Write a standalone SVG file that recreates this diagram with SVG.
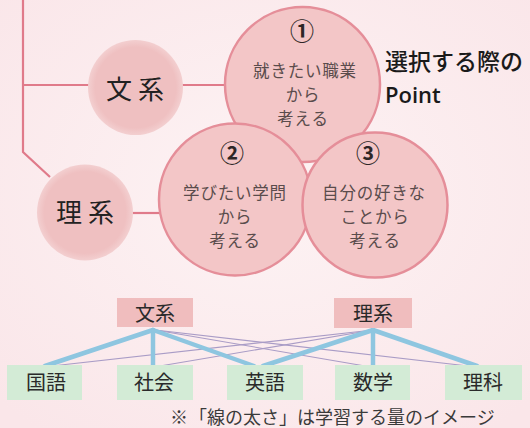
<svg xmlns="http://www.w3.org/2000/svg" width="530" height="428" viewBox="0 0 530 428">
  <defs>
    <radialGradient id="bg" cx="0.5" cy="0.45" r="0.7">
      <stop offset="0" stop-color="#fdf3f4"/>
      <stop offset="1" stop-color="#fae6e9"/>
    </radialGradient>
    <radialGradient id="soft" cx="0.5" cy="0.5" r="0.5">
      <stop offset="0.85" stop-color="#efc0c1"/>
      <stop offset="1" stop-color="#f3cfd0"/>
    </radialGradient>
    <style>
      .jp { font-family: "Noto Sans CJK JP", "Noto Sans", sans-serif; }
      .link { fill: none; stroke: #e07a8a; stroke-width: 2.2; }
      .big { fill: #f3c6c7; stroke: #e58e99; stroke-width: 2.5; }
      .small { fill: url(#soft); }
      .ctext { font-size: 16.5px; fill: #5a4c4c; text-anchor: middle; letter-spacing: 0.8px; }
      .num { font-size: 24px; font-weight: 700; fill: #2e2626; text-anchor: middle; }
      .label { font-size: 26px; fill: #222; text-anchor: middle; letter-spacing: 6px; }
      .pbox { fill: #f0bdbe; }
      .gbox { fill: #d3ebd6; }
      .btext { font-size: 20px; fill: #2a2a2a; text-anchor: middle; }
      .thick { stroke: #8ec6e0; stroke-width: 4.5; stroke-linecap: round; fill: none; }
      .thin { stroke: #a99cc6; stroke-width: 1.1; fill: none; }
    </style>
  </defs>
  <rect x="0" y="0" width="530" height="428" fill="url(#bg)"/>

  <g id="connectors">
    <polyline class="link" points="23,0 23,152 50,177"/>
    <line class="link" x1="23" y1="85" x2="90" y2="85"/>
    <line class="link" x1="182" y1="85" x2="226" y2="85"/>
    <line class="link" x1="132" y1="213" x2="161" y2="213"/>
    <g id="subject-links">
      <line class="thin" x1="155" y1="330" x2="365" y2="366"/>
      <line class="thin" x1="155" y1="330" x2="468" y2="366"/>
      <line class="thin" x1="373" y1="330" x2="52" y2="366"/>
      <line class="thin" x1="373" y1="330" x2="160" y2="366"/>
      <line class="thick" x1="153" y1="330" x2="45" y2="366"/>
      <line class="thick" x1="153" y1="330" x2="153" y2="366"/>
      <line class="thick" x1="153" y1="330" x2="254" y2="366"/>
      <line class="thick" x1="373" y1="330" x2="263" y2="366"/>
      <line class="thick" x1="373" y1="330" x2="373" y2="366"/>
      <line class="thick" x1="373" y1="330" x2="477" y2="366"/>
    </g>
  </g>

  <g id="bunkei-circle">
    <circle class="small" cx="135.5" cy="87.5" r="47.5"/>
    <text class="jp label" x="138" y="99">文系</text>
  </g>
  <g id="rikei-circle">
    <circle class="small" cx="85" cy="212.5" r="48"/>
    <text class="jp label" x="88" y="222">理系</text>
  </g>

  <g id="point1">
    <circle class="big" cx="302.5" cy="84.5" r="77.5"/>
    <text class="jp num" x="302" y="40">①</text>
    <text class="jp ctext" x="305" y="77">就きたい職業</text>
    <text class="jp ctext" x="303" y="101">から</text>
    <text class="jp ctext" x="303" y="125">考える</text>
  </g>
  <g id="point2">
    <circle class="big" cx="235" cy="199.5" r="76"/>
    <text class="jp num" x="232" y="162">②</text>
    <text class="jp ctext" x="235" y="199">学びたい学問</text>
    <text class="jp ctext" x="235" y="223">から</text>
    <text class="jp ctext" x="235" y="247">考える</text>
  </g>
  <g id="point3">
    <circle class="big" cx="375" cy="205" r="72.5"/>
    <text class="jp num" x="368" y="162">③</text>
    <text class="jp ctext" x="374" y="199">自分の好きな</text>
    <text class="jp ctext" x="375" y="223">ことから</text>
    <text class="jp ctext" x="375" y="247">考える</text>
  </g>

  <g id="title">
    <text class="jp" x="385" y="70" font-size="23" font-weight="500" fill="#1a1a1a">選択する際の</text>
    <text x="385" y="103" font-family="'Open Sans', 'Noto Sans', sans-serif" font-size="22" font-weight="600" fill="#1a1a1a">Point</text>
  </g>

  <g id="bunkei-box">
    <rect class="pbox" x="117" y="298" width="76" height="29"/>
    <text class="jp btext" x="155" y="321">文系</text>
  </g>
  <g id="rikei-box">
    <rect class="pbox" x="334" y="298" width="78" height="30"/>
    <text class="jp btext" x="373" y="321">理系</text>
  </g>

  <g id="kokugo">
    <rect class="gbox" x="7" y="365" width="75" height="35"/>
    <text class="jp btext" x="46" y="390">国語</text>
  </g>
  <g id="shakai">
    <rect class="gbox" x="117" y="365" width="76" height="35"/>
    <text class="jp btext" x="154" y="390">社会</text>
  </g>
  <g id="eigo">
    <rect class="gbox" x="227" y="365" width="76" height="35"/>
    <text class="jp btext" x="265" y="390">英語</text>
  </g>
  <g id="sugaku">
    <rect class="gbox" x="335" y="365" width="75" height="35"/>
    <text class="jp btext" x="373" y="390">数学</text>
  </g>
  <g id="rika">
    <rect class="gbox" x="445" y="365" width="77" height="35"/>
    <text class="jp btext" x="483" y="390">理科</text>
  </g>

  <g id="note">
    <text class="jp" font-size="18" fill="#3a3a3a" y="424"><tspan x="170">※</tspan><tspan x="189">「線の太さ」は学習する量のイメージ</tspan></text>
  </g>
</svg>
